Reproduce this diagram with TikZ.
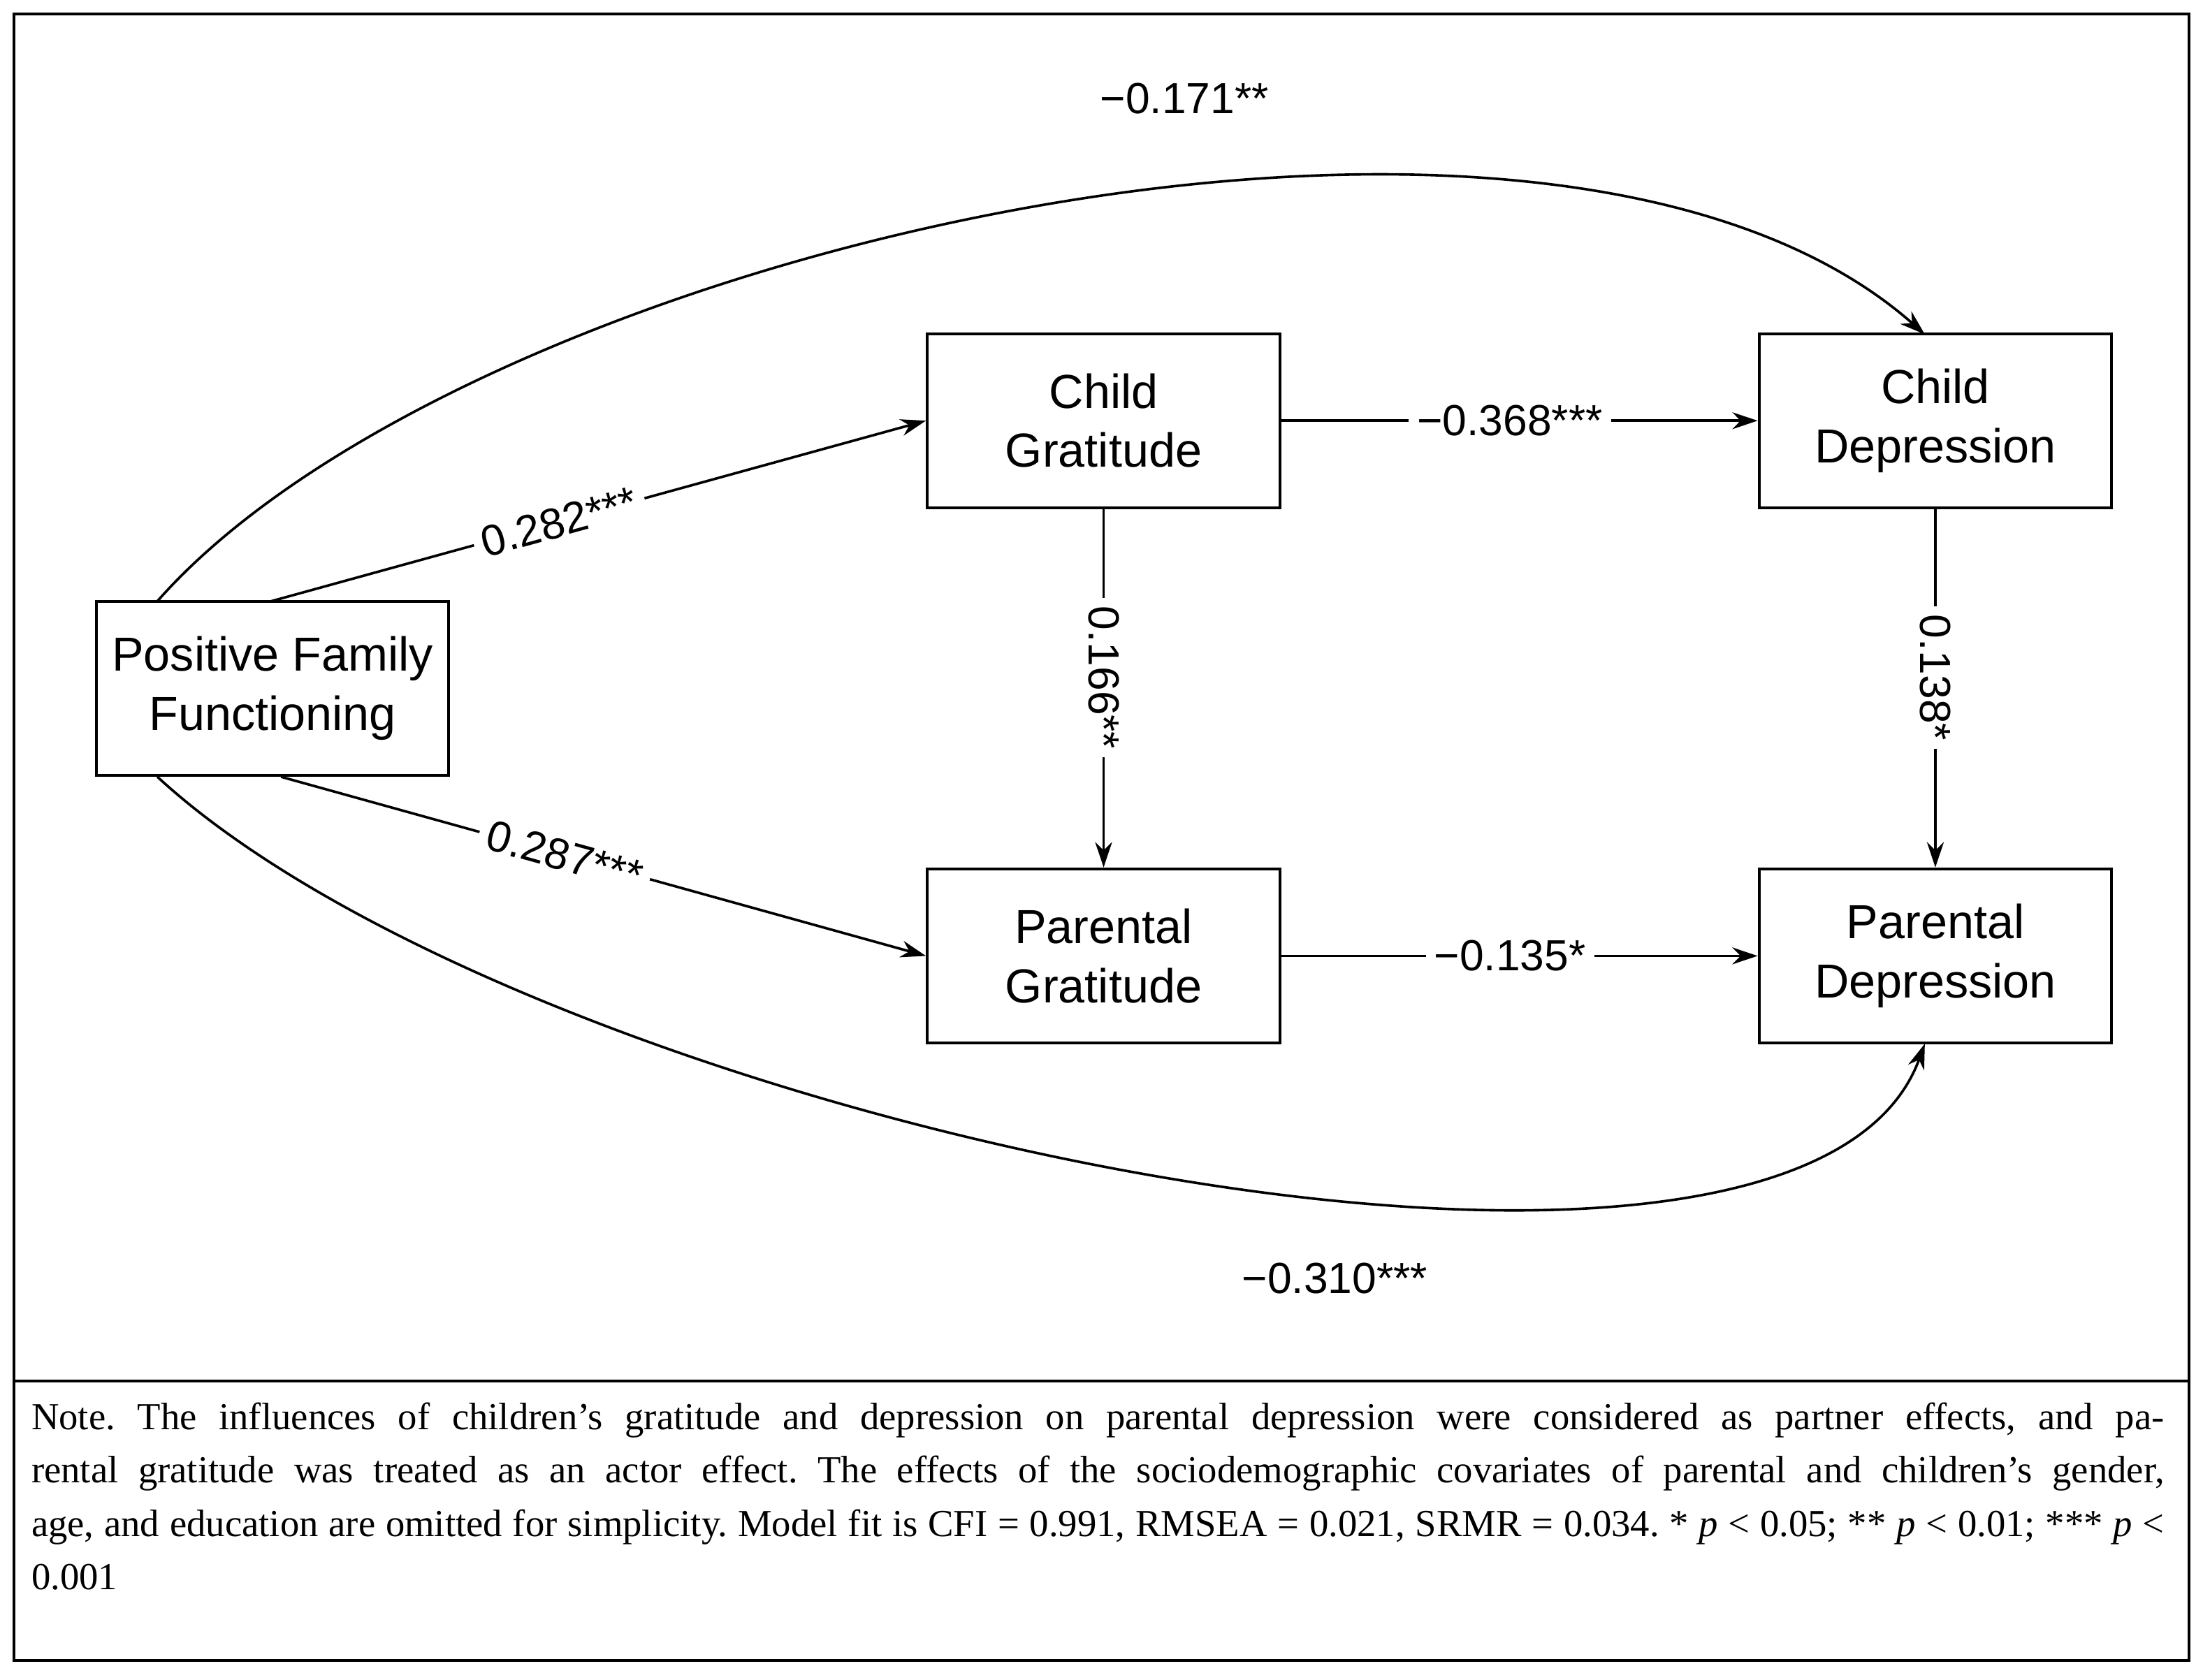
\documentclass[tikz,border=0pt]{standalone}
\usepackage{fontspec}
\setmainfont{Liberation Serif}
\newfontfamily\arialf{Liberation Sans}
\usetikzlibrary{arrows.meta}
\begin{document}
\frenchspacing
\begin{tikzpicture}[x=0.5pt,y=-0.5pt,
  box/.style={draw,line width=1pt,minimum width=125.5pt,minimum height=62pt,align=center,font=\arialf\fontsize{17}{21}\selectfont,inner sep=0pt},
  arr/.style={line width=0.9pt,-{Stealth[length=9pt,width=6pt]}},
  lab/.style={fill=white,font=\arialf\fontsize{15.5}{18}\selectfont,inner sep=3pt}]
\useasboundingbox (0,0) rectangle (1568,1196);
\draw[line width=1pt] (10,10) rectangle (1558,1182);
\draw[line width=1pt] (10,983) -- (1558,983);
\node[box] (pff) at (194,490) {Positive Family\\Functioning};
\node[box] (cg) at (785.5,299.5) {Child\\Gratitude};
\node[box] (cd) at (1377.5,299.5) {Child\\Depression};
\node[box] (pg) at (785.5,680.5) {Parental\\Gratitude};
\node[box] (pd) at (1377.5,680.5) {Parental\\Depression};
\coordinate (a1) at (112,428);
\coordinate (a2) at (1370,238);
\coordinate (b1) at (112,553);
\coordinate (b2) at (1370,743);
\draw[arr] (a1) .. controls (330,180) and (1100,0) .. (a2);
\draw[arr] (b1) .. controls (380,800) and (1280,990) .. (b2);
\node[font=\arialf\fontsize{15.5}{18}\selectfont] (l1) at (843,70) {−0.171**};
\node[font=\arialf\fontsize{15.5}{18}\selectfont] (l2) at (950,910) {−0.310***};
\draw[arr] (193,428) -- node[lab,sloped,pos=0.44] {0.282***} (cg.west);
\draw[arr] (200,553) -- node[lab,sloped,pos=0.44] {0.287***} (pg.west);
\draw[arr] (cg.east) -- node[lab,pos=0.48] {−0.368***} (cd.west);
\draw[arr] (pg.east) -- node[lab,pos=0.48] {−0.135*} (pd.west);
\draw[arr] (cg.south) -- node[lab,rotate=-90,pos=0.47] {0.166**} (pg.north);
\draw[arr] (cd.south) -- node[lab,rotate=-90,pos=0.47] {0.138*} (pd.north);
\node[anchor=north west,text width=759pt,align=justify,inner sep=0pt,font=\fontsize{13.6}{19}\selectfont] (note) at (22,998)
{Note. The influences of children’s gratitude and depression on parental depression were considered as partner effects, and pa-\linebreak rental gratitude was treated as an actor effect. The effects of the sociodemographic covariates of parental and children’s gender,\linebreak age, and education are omitted for simplicity. Model fit is CFI = 0.991, RMSEA = 0.021, SRMR = 0.034. * \textit{p} {\textless} 0.05; ** \textit{p} {\textless} 0.01; *** \textit{p} {\textless}\linebreak 0.001};
\end{tikzpicture}
\end{document}
